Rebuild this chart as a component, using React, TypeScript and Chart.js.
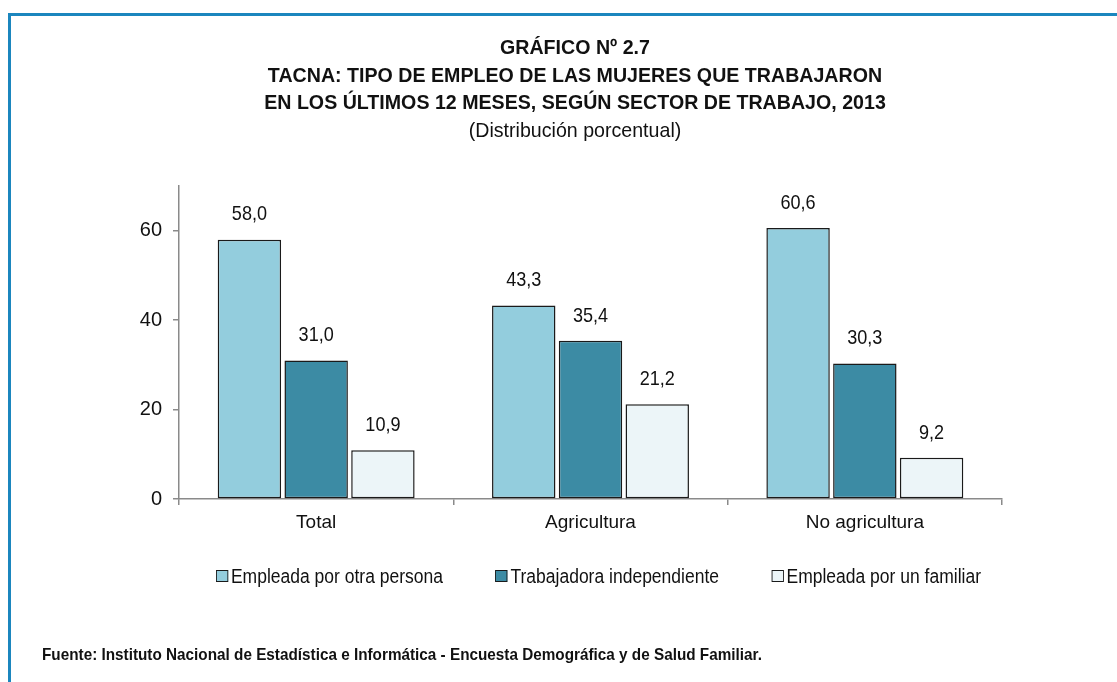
import React, { useEffect, useRef } from "react";
import { Chart, registerables } from "chart.js";

Chart.register(...registerables);

const categories = ["Total", "Agricultura", "No agricultura"];
const seriesNames = [
  "Empleada por otra persona",
  "Trabajadora independiente",
  "Empleada por un familiar",
];
const seriesColors = ["#93CDDD", "#3C8BA4", "#ECF5F8"];
const empleadaOtra = [58.0, 43.3, 60.6];
const independiente = [31.0, 35.4, 30.3];
const empleadaFamiliar = [10.9, 21.2, 9.2];
const yTicks = [0, 20, 40, 60];

const FONT = '"Liberation Sans Narrow", "Arial Narrow", "Liberation Sans", Arial, sans-serif';

const valueLabels = {
  id: "valueLabels",
  afterDatasetsDraw(chart: any) {
    const { ctx } = chart;
    chart.data.datasets.forEach((ds: any, i: number) => {
      const meta = chart.getDatasetMeta(i);
      meta.data.forEach((bar: any, j: number) => {
        const v = ds.data[j];
        ctx.save();
        ctx.translate(bar.x, bar.y - 25);
        ctx.scale(0.86, 1);
        ctx.font = `21px ${FONT}`;
        ctx.fillStyle = "#111";
        ctx.textAlign = "center";
        ctx.textBaseline = "middle";
        ctx.fillText(v.toFixed(1).replace(".", ","), 0, 0);
        ctx.restore();
      });
    });
  },
};

export default function App() {
  const ref = useRef<HTMLCanvasElement>(null);
  useEffect(() => {
    if (!ref.current) return;
    const datasets = [empleadaOtra, independiente, empleadaFamiliar].map((data, i) => ({
      label: seriesNames[i],
      data,
      backgroundColor: seriesColors[i],
      borderColor: "#1a1a1a",
      borderWidth: 1.5,
      borderSkipped: false,
      categoryPercentage: 0.73,
      barPercentage: 0.95,
    }));
    const chart = new Chart(ref.current, {
      type: "bar",
      data: { labels: categories, datasets },
      options: {
        animation: false,
        responsive: false,
        maintainAspectRatio: false,
        layout: { padding: { top: 186, left: 0, right: 115, bottom: 143 } },
        plugins: {
          tooltip: { enabled: false },
          legend: { display: false },
        },
        scales: {
          x: {
            grid: {
              display: true,
              drawOnChartArea: false,
              drawTicks: true,
              tickLength: 6,
              color: "#8a8a8a",
              lineWidth: 1.5,
            },
            border: { display: true, color: "#8a8a8a", width: 1.5 },
            ticks: { font: { family: FONT, size: 19 }, color: "#111", padding: 6 },
            afterFit: (s: any) => {
              s.height = 40;
            },
          },
          y: {
            min: 0,
            max: 70,
            afterBuildTicks: (s: any) => {
              s.ticks = yTicks.map((v) => ({ value: v }));
            },
            grid: {
              display: true,
              drawOnChartArea: false,
              drawTicks: true,
              tickLength: 6,
              color: "#8a8a8a",
              lineWidth: 1.5,
            },
            border: { display: true, color: "#8a8a8a", width: 1.5 },
            ticks: { font: { family: FONT, size: 20 }, color: "#111", padding: 11 },
            afterFit: (s: any) => {
              s.width = 179;
            },
          },
        },
      },
      plugins: [valueLabels],
    });
    return () => chart.destroy();
  }, []);

  return (
    <div style={{ position: "fixed", left: 0, top: 0, width: 1117, height: 682, background: "#fff", overflow: "hidden" }}>
      <div
        style={{
          position: "absolute",
          left: 8,
          top: 13,
          width: 1200,
          height: 800,
          borderTop: "3px solid #1B86BE",
          borderLeft: "3px solid #1B86BE",
        }}
      />
      <canvas ref={ref} width={1117} height={682} style={{ position: "absolute", left: 0, top: 0 }} />
      <div
        style={{
          position: "absolute",
          left: 175,
          top: 33,
          width: 800,
          textAlign: "center",
          fontFamily: FONT,
          fontSize: 21,
          lineHeight: "27.5px",
          color: "#111",
          transform: "scaleX(0.934)",
          transformOrigin: "center",
        }}
      >
        <div style={{ fontWeight: "bold" }}>GRÁFICO Nº 2.7</div>
        <div style={{ fontWeight: "bold" }}>TACNA: TIPO DE EMPLEO DE LAS MUJERES QUE TRABAJARON</div>
        <div style={{ fontWeight: "bold" }}>EN LOS ÚLTIMOS 12 MESES, SEGÚN SECTOR DE TRABAJO, 2013</div>
        <div>(Distribución porcentual)</div>
      </div>
      <div
        style={{
          position: "absolute",
          left: 216,
          top: 562,
          display: "flex",
          alignItems: "center",
          gap: 60,
          fontFamily: FONT,
          fontSize: 20,
          lineHeight: "28px",
          color: "#111",
          whiteSpace: "nowrap",
          transform: "scaleX(0.875)",
          transformOrigin: "left center",
        }}
      >
        {seriesNames.map((name, i) => (
          <div key={name} style={{ display: "flex", alignItems: "center" }}>
            <span
              style={{
                display: "inline-block",
                width: 13.7,
                height: 12,
                boxSizing: "border-box",
                border: "1.5px solid #1a1a1a",
                background: seriesColors[i],
                marginRight: 3.4,
              }}
            />
            <span>{name}</span>
          </div>
        ))}
      </div>
      <div
        style={{
          position: "absolute",
          left: 42,
          top: 645,
          fontFamily: FONT,
          fontSize: 16.5,
          fontWeight: "bold",
          lineHeight: "18px",
          color: "#111",
          whiteSpace: "nowrap",
          transform: "scaleX(0.927)",
          transformOrigin: "left center",
        }}
      >
        Fuente: Instituto Nacional de Estadística e Informática - Encuesta Demográfica y de Salud Familiar.
      </div>
    </div>
  );
}
